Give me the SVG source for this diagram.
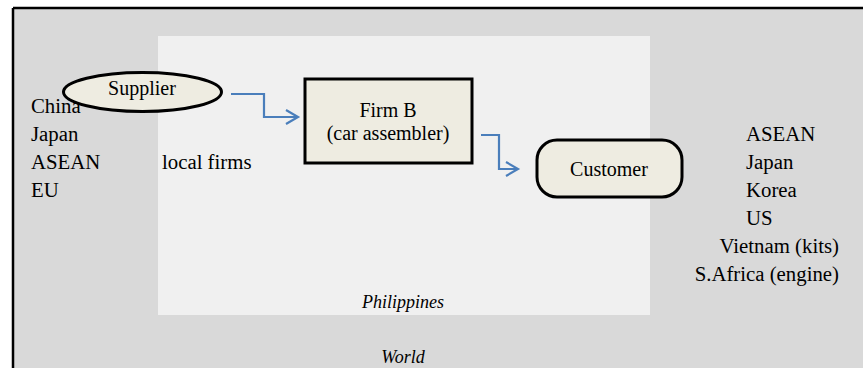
<svg xmlns="http://www.w3.org/2000/svg" width="863" height="368" viewBox="0 0 863 368">
<defs>
<style>
.t{font-family:"Liberation Serif","Times New Roman",serif;font-size:20px;fill:#000}
.l{font-family:"Liberation Serif","Times New Roman",serif;font-size:20.8px;fill:#000}
.i{font-family:"Liberation Serif","Times New Roman",serif;font-size:18px;font-style:italic;fill:#000}
.node{fill:#eeece1;stroke:#000;stroke-width:3}
.conn{fill:none;stroke:#4a7ebb;stroke-width:2.2}
</style>
</defs>
<rect x="0" y="0" width="863" height="368" fill="#ffffff"/>
<g id="world">
<rect x="13" y="8" width="850" height="360" fill="#d9d9d9"/>
<line x1="13" y1="8" x2="863" y2="8" stroke="#000" stroke-width="2.5"/>
<line x1="13" y1="8" x2="13" y2="368" stroke="#000" stroke-width="2.5"/>
<text class="i" x="403" y="363" text-anchor="middle">World</text>
</g>
<g id="philippines">
<rect x="158" y="36" width="492" height="279" fill="#f0f0f0"/>
<text class="i" x="403" y="308" text-anchor="middle">Philippines</text>
</g>
<g id="origins">
<text class="l" x="31" y="113">China</text>
<text class="l" x="31" y="141">Japan</text>
<text class="l" x="31" y="169">ASEAN</text>
<text class="l" x="31" y="197">EU</text>
</g>
<g id="local-firms">
<text class="l" x="162" y="169">local firms</text>
</g>
<g id="destinations">
<text class="l" x="746" y="141">ASEAN</text>
<text class="l" x="746" y="169">Japan</text>
<text class="l" x="746" y="197">Korea</text>
<text class="l" x="746" y="225">US</text>
<text class="l" x="839" y="253" text-anchor="end">Vietnam (kits)</text>
<text class="l" x="839" y="281" text-anchor="end">S.Africa (engine)</text>
</g>
<g id="connectors">
<polyline class="conn" points="231,94 264,94 264,117 297,117"/>
<polyline class="conn" points="286,110 298,117 286,124"/>
<polyline class="conn" points="481,135 499,135 499,169 517,169"/>
<polyline class="conn" points="506,162 518,169 506,176"/>
</g>
<g id="supplier">
<ellipse class="node" cx="142.5" cy="92" rx="79" ry="19.5"/>
<text class="t" x="142" y="95" text-anchor="middle">Supplier</text>
</g>
<g id="firm-b">
<rect class="node" x="305" y="79" width="167" height="84"/>
<text class="t" x="388" y="117" text-anchor="middle">Firm B</text>
<text class="t" x="388" y="140" text-anchor="middle">(car assembler)</text>
</g>
<g id="customer">
<rect class="node" x="537" y="140" width="145" height="57" rx="20" ry="20"/>
<text class="t" x="609" y="176" text-anchor="middle">Customer</text>
</g>
</svg>
